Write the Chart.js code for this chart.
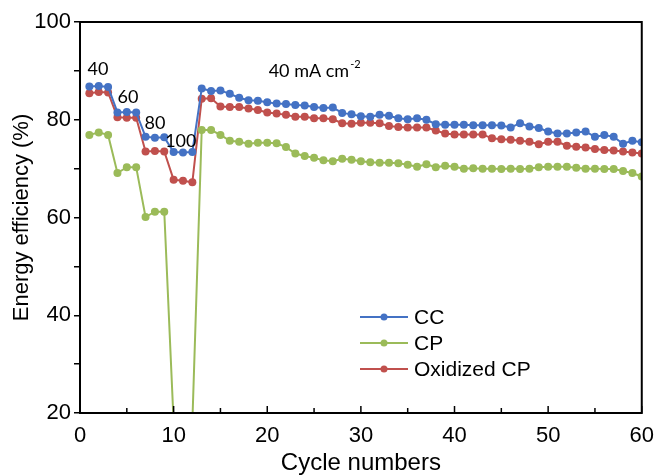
<!DOCTYPE html>
<html lang="en">
<head>
<meta charset="UTF-8">
<title>Energy efficiency vs cycle numbers</title>
<script src="https://cdn.jsdelivr.net/npm/chart.js"></script>
<style>
  body { margin: 0; background: #fff; }
  #wrap { width: 656px; height: 475px; }
</style>
</head>
<body>
<div id="wrap"><canvas id="eeChart" width="656" height="475"></canvas></div>
<script>
// cycle numbers
const cycles = [1,2,3,4,5,6,7,8,9,10,11,12,13,14,15,16,17,18,19,20,
  21,22,23,24,25,26,27,28,29,30,31,32,33,34,35,36,37,38,39,40,
  41,42,43,44,45,46,47,48,49,50,51,52,53,54,55,56,57,58,59,60];

// energy efficiency (%)
const ccValues = [86.8,86.9,86.7,81.5,81.6,81.5,76.5,76.3,76.4,73.4,73.3,73.4,
  86.4,85.9,86.0,85.3,84.5,84.0,83.9,83.6,83.3,83.2,83.0,82.9,82.6,82.4,82.5,81.4,81.1,80.7,
  80.6,81.0,80.8,80.3,80.1,80.3,80.0,79.1,79.0,79.0,79.0,78.9,78.9,78.9,78.8,78.4,79.3,78.6,78.3,77.6,
  77.2,77.2,77.4,77.6,76.5,76.9,76.5,75.1,75.7,75.4];
const cpValues = [76.9,77.4,76.9,69.1,70.3,70.3,60.1,61.2,61.2,18,18,18,
  77.9,77.9,76.9,75.7,75.5,75.1,75.3,75.3,75.2,74.4,73.1,72.6,72.2,71.7,71.5,72.0,71.8,71.5,
  71.3,71.2,71.2,71.1,70.8,70.4,70.9,70.3,70.6,70.4,70.0,70.1,70.0,70.0,69.9,70.0,69.9,70.0,70.3,70.4,
  70.4,70.4,70.2,70.0,70.0,69.9,69.9,69.5,69.1,68.4];
const oxValues = [85.4,85.7,85.6,80.5,80.4,80.4,73.5,73.6,73.5,67.7,67.5,67.2,
  84.3,84.4,82.7,82.6,82.6,82.3,82.0,81.5,81.3,81.0,80.6,80.6,80.3,80.3,80.1,79.3,79.2,79.4,
  79.4,79.3,78.7,78.5,78.4,78.4,78.4,77.8,77.2,77.0,77.0,77.0,77.0,76.2,76.0,75.9,75.7,75.5,75.0,75.5,
  75.5,74.7,74.5,74.3,74.0,73.8,73.7,73.5,73.3,73.1];

const seriesNames = ['CC', 'CP', 'Oxidized CP'];
const seriesColors = ['#4472C4', '#9BBB59', '#C0504D'];

// current density labels, placed in data units
const rateLabels = ['40', '60', '80', '100'];
const rateLabelX = [1.92, 5.12, 8.0, 10.77];
const rateLabelY = [90.4, 84.6, 79.3, 75.7];
const densityLabelX = 20.15;
const densityLabelY = 90.0;

const FONT = "'Liberation Sans', Arial, sans-serif";
const NOTE_FONT = "Lato, 'Open Sans', sans-serif";

function toPoints(vals) {
  return cycles.map((c, i) => ({ x: c, y: vals[i] }));
}

const datasets = [ccValues, cpValues, oxValues].map((vals, i) => ({
  label: seriesNames[i],
  data: toPoints(vals),
  borderColor: seriesColors[i],
  backgroundColor: seriesColors[i],
  borderWidth: 2,
  pointRadius: 4,
  pointBorderWidth: 0,
  pointBackgroundColor: seriesColors[i],
  tension: 0,
  clip: 0
}));

// frame, inward x ticks, legend and text notes
const decorations = {
  id: 'decorations',
  afterDatasetsDraw(chart) {
    const ctx = chart.ctx;
    const a = chart.chartArea;
    const xs = chart.scales.x;
    const ys = chart.scales.y;
    ctx.save();

    // box
    ctx.strokeStyle = '#000';
    ctx.lineWidth = 2;
    ctx.strokeRect(a.left, a.top, a.right - a.left, a.bottom - a.top);

    // x ticks pointing in
    ctx.lineWidth = 1.5;
    for (let v = 0; v <= 60; v += 5) {
      const px = xs.getPixelForValue(v);
      const len = v % 10 === 0 ? 7 : 5;
      ctx.beginPath();
      ctx.moveTo(px, a.bottom);
      ctx.lineTo(px, a.bottom - len);
      ctx.stroke();
    }

    // legend
    const lx = a.left + 280, ly = a.top + 295, row = 26;
    ctx.font = '21px ' + FONT;
    ctx.textBaseline = 'middle';
    ctx.textAlign = 'left';
    seriesNames.forEach((name, i) => {
      const y = ly + i * row;
      ctx.strokeStyle = seriesColors[i];
      ctx.lineWidth = 2;
      ctx.beginPath();
      ctx.moveTo(lx, y);
      ctx.lineTo(lx + 48, y);
      ctx.stroke();
      ctx.fillStyle = seriesColors[i];
      ctx.beginPath();
      ctx.arc(lx + 24, y, 3.5, 0, Math.PI * 2);
      ctx.fill();
      ctx.fillStyle = '#000';
      ctx.fillText(name, lx + 54, y + 1);
    });

    // current density notes
    ctx.font = '18px ' + NOTE_FONT;
    ctx.textAlign = 'center';
    rateLabels.forEach((t, i) => {
      ctx.fillText(t, xs.getPixelForValue(rateLabelX[i]), ys.getPixelForValue(rateLabelY[i]));
    });
    ctx.textAlign = 'left';
    const dx = xs.getPixelForValue(densityLabelX);
    const dy = ys.getPixelForValue(densityLabelY);
    const main = '40 mA cm';
    ctx.fillText(main, dx, dy);
    const w = ctx.measureText(main).width;
    ctx.font = '11px ' + NOTE_FONT;
    ctx.fillText('-2', dx + w + 1, dy - 6);

    ctx.restore();
  }
};

new Chart(document.getElementById('eeChart'), {
  type: 'line',
  data: { datasets: datasets },
  options: {
    responsive: false,
    animation: false,
    devicePixelRatio: 1,
    layout: { padding: { top: 22, right: 13, left: 0, bottom: 0 } },
    plugins: { legend: { display: false }, tooltip: { enabled: false } },
    scales: {
      x: {
        type: 'linear',
        min: 0, max: 60,
        ticks: { stepSize: 10, color: '#000', font: { family: FONT, size: 22 }, padding: 2, maxRotation: 0 },
        grid: { display: false },
        border: { display: false },
        title: { display: true, text: 'Cycle numbers', color: '#000', font: { family: FONT, size: 24, lineHeight: 1 }, padding: { top: 0, bottom: 0 } },
        afterFit: s => { s.height = 62; }
      },
      y: {
        min: 20, max: 100,
        ticks: {
          stepSize: 10, color: '#000', font: { family: FONT, size: 22 }, padding: 3,
          callback: v => (v % 20 === 0 ? v : '')
        },
        grid: { drawOnChartArea: false, drawTicks: true, tickLength: 6, color: '#000', lineWidth: 1.5 },
        border: { display: false },
        title: { display: true, text: 'Energy efficiency (%)', color: '#000', font: { family: FONT, size: 22 }, padding: { top: 9, bottom: 0 } },
        afterFit: s => { s.width = 80; }
      }
    }
  },
  plugins: [decorations]
});
</script>
</body>
</html>
